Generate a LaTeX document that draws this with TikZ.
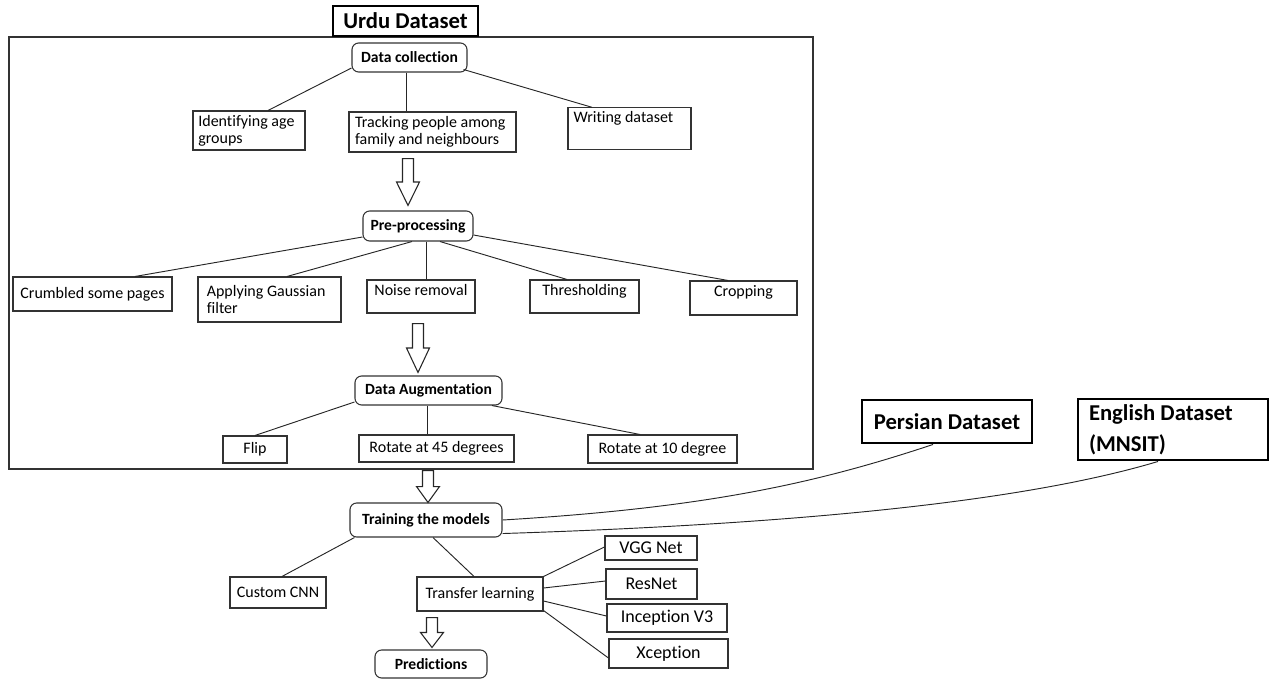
\documentclass[tikz,border=0pt]{standalone}
\usepackage{fontspec}
\setmainfont{Carlito}[Ligatures={NoCommon}]
\usetikzlibrary{positioning,calc}
\tikzset{
  box/.style={rectangle,draw=black!80,line width=0.8pt,
              font=\fontsize{12}{12.5}\selectfont,inner sep=2pt,align=center},
  bigbox/.style={box,font=\fontsize{13.5}{15}\selectfont},
  stepbox/.style={box,rounded corners=5pt,font=\bfseries\fontsize{11.7}{13}\selectfont},
  dsetbox/.style={box,draw=black,line width=2.2pt,font=\bfseries\fontsize{17}{23}\selectfont},
  sz/.style 2 args={minimum width=#1*0.75pt,minimum height=#2*0.75pt},
  toptext/.style={text height=9.25pt,text depth=#1},
  link/.style={draw=black!85,line width=0.7pt},
  fat/.style={draw=black!85,line width=0.8pt,to path={
    ($(\tikztostart)+(-5.5,0)$) -- ($(\tikztostart)+(5.5,0)$)
    -- ($(\tikztostart)!.5!(\tikztotarget)+(5.5,0)$)
    -- ($(\tikztostart)!.5!(\tikztotarget)+(11.5,0)$)
    -- (\tikztotarget)
    -- ($(\tikztostart)!.5!(\tikztotarget)+(-11.5,0)$)
    -- ($(\tikztostart)!.5!(\tikztotarget)+(-5.5,0)$) -- cycle}},
}

\begin{document}
\begin{tikzpicture}[x=0.75pt,y=-0.75pt]
  \useasboundingbox (0,0) rectangle (1272,679);

  % urdu block
  \node[box,line width=0.9pt,sz={804}{432}] (urdu) at (411,253) {};
  \node[dsetbox,sz={145}{30}] (urdutitle) at (405.5,21) {Urdu Dataset};

  \node[stepbox,sz={115}{29}] (collect) at (409.5,57.5) {Data collection};
  \node[box,sz={112}{39},align=flush left,text width=76pt] (age) at (249,130.5) {Identifying age\\groups};
  \node[box,sz={167}{40},align=flush left,text width=116pt] (track) at (432.5,132) {Tracking people among\\family and neighbours};
  \node[box,sz={123}{41},align=flush left,text width=84pt,toptext=17.75pt] (writing) at (629.5,128.5) {Writing dataset};

  \node[stepbox,sz={110}{30}] (prep) at (418,226) {Pre-processing};
  \node[box,sz={159}{34}] (crumb) at (92.5,294) {Crumbled some pages};
  \node[box,sz={143}{45},align=flush left,text width=94pt] (gauss) at (269.5,299.5) {Applying Gaussian\\filter};
  \node[box,sz={108}{33},toptext=11.5pt] (noise) at (421,296.5) {Noise removal};
  \node[box,sz={109}{33},toptext=11.5pt] (thresh) at (584.5,296.5) {Thresholding};
  \node[box,sz={107}{34},toptext=12.25pt] (crop) at (743.5,298) {Cropping};

  \node[stepbox,sz={147}{29}] (augment) at (428.5,390.5) {Data Augmentation};
  \node[box,sz={64}{27}] (flip) at (255,449.5) {Flip};
  \node[box,sz={155}{27}] (rot45) at (436.5,448.5) {Rotate at 45 degrees};
  \node[box,sz={149}{28}] (rot10) at (662.5,449) {Rotate at 10 degree};

  % models
  \node[stepbox,sz={152}{34}] (train) at (426,520) {Training the models};
  \node[box,sz={96}{31}] (cnn) at (278,592.5) {Custom CNN};
  \node[box,sz={126}{34}] (transfer) at (480,594) {Transfer learning};
  \node[bigbox,sz={92}{24}] (vgg) at (651,548) {VGG Net};
  \node[bigbox,sz={91}{30}] (resnet) at (651.5,584) {ResNet};
  \node[bigbox,sz={120}{28}] (incep) at (667,618) {Inception V3};
  \node[bigbox,sz={119}{29}] (xcep) at (668.5,653.5) {Xception};
  \node[stepbox,sz={112}{28}] (predict) at (431,664) {Predictions};

  \node[dsetbox,sz={170}{43}] (persian) at (947,421.5) {Persian Dataset};
  \node[dsetbox,sz={190}{61},align=flush left,text width=126pt] (english) at (1173,429.5) {English Dataset\\(MNSIT)};

  % tree lines
  \draw[link] ($(collect.west)+(0,10.5)$) -- ($(age.north)+(19,0)$);
  \draw[link] ($(collect.south)+(-3.5,0)$) -- ($(track.north)+(-26.5,0)$);
  \draw[link] ($(collect.east)+(-4,12)$) -- ($(writing.north)+(-37.5,0)$);

  \draw[link] ($(prep.west)+(0,11)$) -- ($(crumb.north)+(42.5,0)$);
  \draw[link] ($(prep.south)+(-6,0)$) -- ($(gauss.north)+(17.5,0)$);
  \draw[link] ($(prep.south)+(8,0)$) -- ($(noise.north)+(5,0)$);
  \draw[link] ($(prep.south)+(22,0)$) -- ($(thresh.north)+(-17.5,0)$);
  \draw[link] ($(prep.east)+(0,9)$) -- ($(crop.north)+(-15.5,0)$);

  \draw[link] ($(augment.west)+(0,11.5)$) -- (flip.north);
  \draw[link] ($(augment.south)+(-1.5,0)$) -- ($(rot45.north)+(-9.5,0)$);
  \draw[link] ($(augment.south)+(63.5,0)$) -- ($(rot10.north)+(-22.5,0)$);

  \draw[link] ($(train.south west)+(5,0)$) -- ($(cnn.north)+(4,0)$);
  \draw[link] ($(train.south)+(7,0)$) -- ($(transfer.north)+(-6,0)$);

  \draw[link] (transfer.north east) -- ($(vgg.west)+(0,-1)$);
  \draw[link] ($(transfer.east)+(0,-6)$) -- ($(resnet.west)+(0,-3)$);
  \draw[link] ($(transfer.east)+(0,7)$) -- ($(incep.west)+(0,-2)$);
  \draw[link] ($(transfer.south east)+(0,-1)$) -- ($(xcep.west)+(0,4.5)$);

  \draw[link] ($(persian.south)+(-14,0)$) .. controls +(-120,40) and +(200,-12) .. (train.east);
  \draw[link] ($(english.south)+(-15,0)$) .. controls +(-150,45) and +(250,-8) .. ($(train.south east)+(0,-4)$);

  % block arrows
  \coordinate (a1s) at ($(track.south)+(-24.5,6)$);
  \coordinate (a1e) at ($(a1s |- prep.north)+(0,-5)$);
  \coordinate (a2s) at ($(noise.south)+(-3,10)$);
  \coordinate (a2e) at ($(a2s |- augment.north)+(0,-3)$);
  \coordinate (a3s) at ($(urdu.south)+(17,1)$);
  \coordinate (a3e) at (a3s |- train.north);
  \coordinate (a4s) at ($(transfer.south)+(-48,6)$);
  \coordinate (a4e) at ($(a4s |- predict.north)+(0,-2)$);
  \draw[fat] (a1s) to (a1e);
  \draw[fat] (a2s) to (a2e);
  \draw[fat] (a3s) to (a3e);
  \draw[fat] (a4s) to (a4e);
\end{tikzpicture}
\end{document}
